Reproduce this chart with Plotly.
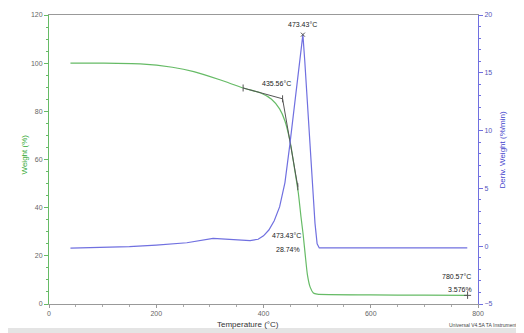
import plotly.graph_objects as go

# Weight (%) curve
temp_w = [40, 100, 170, 230, 270, 320, 362, 395, 415, 430, 440, 450, 458, 465, 470, 474, 478, 482, 487, 493, 500, 600, 700, 780.57]
weight = [100.0, 100.0, 99.7, 98.3, 96.5, 93.0, 89.7, 87.6, 85.0, 81.0, 76.0, 67.0, 56.0, 46.0, 36.0, 28.74, 20.0, 12.0, 7.0, 4.6, 4.1, 3.8, 3.65, 3.576]

# Derivative weight (%/min) curve
temp_d = [40, 100, 150, 200, 257, 306, 340, 375, 390, 400, 410, 420, 430, 440, 449, 459, 466, 473.43, 477, 481, 486, 491, 496, 500, 504, 600, 700, 780]
deriv = [-0.17, -0.1, -0.04, 0.1, 0.3, 0.68, 0.6, 0.48, 0.6, 0.9, 1.4, 2.2, 3.4, 5.5, 8.75, 12.6, 15.6, 18.3, 16.0, 13.0, 9.5, 5.5, 2.0, 0.2, -0.15, -0.15, -0.15, -0.15]

# Onset tangent construction
tan_t = [362, 435.56, 464]
tan_w = [89.7, 85.2, 48.7]

GREEN = "#66bb66"
BLUE = "#7070e0"
GRAY = "#666666"
FONT = "Liberation Sans, Arial"
TICKF = dict(family=FONT, size=7, color=GRAY)

fig = go.Figure()
fig.add_trace(go.Scatter(x=temp_w, y=weight, mode="lines", line=dict(color=GREEN, width=1.2, shape="spline", smoothing=0.6),
                         yaxis="y", showlegend=False))
fig.add_trace(go.Scatter(x=temp_d, y=deriv, mode="lines", line=dict(color=BLUE, width=1.2),
                         yaxis="y2", showlegend=False))
fig.add_trace(go.Scatter(x=tan_t, y=tan_w, mode="lines+markers", line=dict(color="#555555", width=1),
                         marker=dict(symbol="line-ns", size=5, line=dict(color="#555555", width=1)),
                         yaxis="y", showlegend=False))
fig.add_trace(go.Scatter(x=[780.57], y=[3.576], mode="markers",
                         marker=dict(symbol="cross-thin", size=5, line=dict(color="#555555", width=1)),
                         yaxis="y", showlegend=False))
fig.add_trace(go.Scatter(x=[473.43], y=[18.3], mode="markers",
                         marker=dict(symbol="x-thin", size=4, line=dict(color="#555555", width=1)),
                         yaxis="y2", showlegend=False))

annots = [
    dict(x=473.43, y=18.3, yref="y2", text="473.43°C", yshift=10),
    dict(x=435.56, y=85.2, yref="y", text="435.56°C", yshift=15, xshift=-6),
    dict(x=473.43, y=28.74, yref="y", text="473.43°C", xshift=-16, yshift=-1),
    dict(x=473.43, y=28.74, yref="y", text="28.74%", xshift=-15, yshift=-15),
    dict(x=780.57, y=3.576, yref="y", text="780.57°C", xshift=-11, yshift=19),
    dict(x=780.57, y=3.576, yref="y", text="3.576%", xshift=-8, yshift=6),
]
for a in annots:
    fig.add_annotation(xref="x", showarrow=False, font=dict(family=FONT, size=7, color="#222222"), **a)

fig.add_annotation(x=(248 - 49) / 429, y=-(324 - 304) / 289, xref="paper", yref="paper", yanchor="middle", showarrow=False,
                   text="Temperature (°C)", font=dict(family=FONT, size=8, color="#333333"))
fig.add_annotation(x=(522 - 49) / 429, y=-(325 - 304) / 289, xref="paper", yref="paper", yanchor="middle", xanchor="right",
                   showarrow=False, text="Universal V4.5A TA Instruments", font=dict(family=FONT, size=5, color="#444444"))
fig.add_annotation(x=(17 - 49) / 429, y=(304 - 155) / 289, xref="paper", yref="paper", textangle=-90, showarrow=False,
                   text="Weight (%)", font=dict(family=FONT, size=8, color="#33aa33"))
fig.add_annotation(x=(508 - 49) / 429, y=(304 - 150) / 289, xref="paper", yref="paper", textangle=-90, showarrow=False,
                   text="Deriv. Weight (%/min)", font=dict(family=FONT, size=8, color="#4444cc"))

fig.add_shape(type="rect", xref="paper", yref="paper", x0=-0.2, x1=1.2, y0=-(328 - 304) / 289, y1=-0.2,
              fillcolor="#e4e4e4", line=dict(width=0), layer="below")

# page body has an 8px offset, so the figure is 8px smaller and margins shifted
fig.update_layout(
    width=516, height=325,
    margin=dict(l=41, r=46, t=7, b=29, autoexpand=False),
    paper_bgcolor="white", plot_bgcolor="white",
    xaxis=dict(range=[0, 800], tickvals=[0, 200, 400, 600, 800], showgrid=False, zeroline=False, automargin=False,
               showline=True, linecolor="#999999", linewidth=1, mirror=True,
               ticks="outside", ticklen=3, tickcolor="#999999", tickfont=TICKF,
               minor=dict(dtick=50, ticks="outside", ticklen=2, tickcolor="#aaaaaa")),
    yaxis=dict(range=[0, 120], tickvals=[0, 20, 40, 60, 80, 100, 120], showgrid=False, zeroline=False, automargin=False,
               showline=True, linecolor=GREEN, linewidth=1,
               ticks="outside", ticklen=4, tickcolor=GREEN, tickfont=TICKF,
               minor=dict(dtick=5, ticks="outside", ticklen=2, tickcolor=GREEN)),
    yaxis2=dict(range=[-5, 20], tickvals=[-5, 0, 5, 10, 15, 20], overlaying="y", side="right", automargin=False,
                showgrid=False, zeroline=False, showline=True, linecolor=BLUE, linewidth=1,
                ticks="outside", ticklen=4, tickcolor=BLUE, tickfont=dict(family=FONT, size=7, color="#5555bb"),
                minor=dict(dtick=1, ticks="outside", ticklen=2, tickcolor=BLUE)),
)

fig.write_html("out.html")
